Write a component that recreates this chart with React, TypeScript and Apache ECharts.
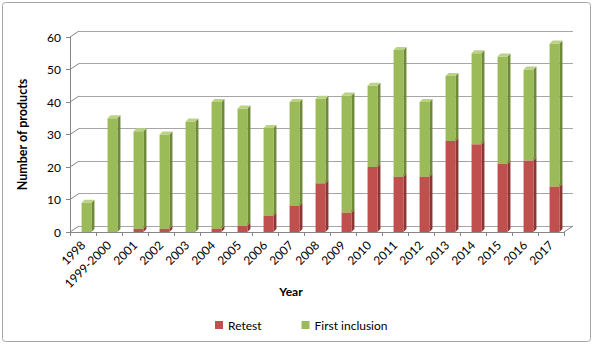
import React, { useEffect, useRef } from "react";
import * as echarts from "echarts";

const categories = [
  "1998", "1999-2000", "2001", "2002", "2003", "2004", "2005", "2006", "2007", "2008",
  "2009", "2010", "2011", "2012", "2013", "2014", "2015", "2016", "2017",
];
const retest = [0, 0, 1, 1, 0, 1, 2, 5, 8, 15, 6, 20, 17, 17, 28, 27, 21, 22, 14];
const firstInclusion = [9, 35, 30, 29, 34, 39, 36, 27, 32, 26, 36, 25, 39, 23, 20, 28, 33, 28, 44];
const yTicks = [0, 10, 20, 30, 40, 50, 60];

const FONT = "Lato, 'Noto Sans', sans-serif";
const DX = 9;
const DY = -6;
const SD = 3;
const SH = -3;

const RED = { front: "#C0504D", side: "#8E3533", top: "#D9807D" };
const GREEN = { front: "#9BBB59", side: "#6E8A38", top: "#B9D284" };

function makePrism(colors: { front: string; side: string; top: string }) {
  return (params: any, api: any) => {
    const idx = api.value(0);
    const base = api.value(1);
    const top = api.value(2);
    if (!(top > base)) return { type: "group", children: [] };
    const p0 = api.coord([idx, base]);
    const p1 = api.coord([idx, top]);
    const bw = api.size([1, 0])[0] * 0.38;
    const x0 = p0[0] + 3.5 - bw / 2;
    const x1 = x0 + bw;
    const yb = p0[1];
    const yt = p1[1];
    return {
      type: "group",
      children: [
        {
          type: "polygon",
          shape: { points: [[x1, yt], [x1 + SD, yt + SH], [x1 + SD, yb + SH], [x1, yb]] },
          style: { fill: colors.side },
        },
        {
          type: "rect",
          shape: { x: x0, y: yt, width: bw, height: yb - yt },
          style: { fill: colors.front },
        },
        {
          type: "polygon",
          shape: { points: [[x0, yt], [x0 + SD, yt + SH], [x1 + SD, yt + SH], [x1, yt]] },
          style: { fill: colors.top },
        },
      ],
    };
  };
}

export default function App() {
  const ref = useRef<HTMLDivElement>(null);
  useEffect(() => {
    if (!ref.current) return;
    const chart = echarts.init(ref.current, undefined, { renderer: "svg" });
    const option: any = {
      animation: false,
      backgroundColor: "#ffffff",
      textStyle: { fontFamily: FONT },
      grid: [
        { left: 70, right: 30, top: 37, bottom: 113 },
        { left: 70 + DX, right: 30 - DX, top: 37 + DY, bottom: 113 - DY },
      ],
      xAxis: [
        {
          type: "category",
          gridIndex: 0,
          data: categories,
          boundaryGap: true,
          axisLine: { show: true, lineStyle: { color: "#868686" } },
          axisTick: { show: true, length: 4, lineStyle: { color: "#868686" } },
          axisLabel: { rotate: 45, interval: 0, fontSize: 12, color: "#000", margin: 11, fontFamily: FONT },
        },
        {
          type: "category",
          gridIndex: 1,
          data: categories,
          show: false,
        },
      ],
      yAxis: [
        {
          type: "value",
          gridIndex: 0,
          min: 0,
          max: 60,
          interval: 10,
          axisLine: { show: true, lineStyle: { color: "#868686" } },
          axisTick: { show: true, length: 4, lineStyle: { color: "#868686" } },
          axisLabel: { fontSize: 12, color: "#000", margin: 9, fontFamily: FONT },
          splitLine: { show: false },
          name: "Number of products",
          nameLocation: "middle",
          nameGap: 41,
          nameTextStyle: { fontSize: 12.5, fontWeight: "bold", color: "#000", fontFamily: FONT },
        },
        {
          type: "value",
          gridIndex: 1,
          min: 0,
          max: 60,
          interval: 10,
          axisLine: { show: false },
          axisTick: { show: false },
          axisLabel: { show: false },
          splitLine: { show: true, lineStyle: { color: "#a6a6a6", width: 1 } },
        },
      ],
      legend: {
        data: ["Retest", "First inclusion"],
        left: 210,
        top: 314,
        icon: "rect",
        itemWidth: 8,
        itemHeight: 8,
        itemGap: 40,
        textStyle: { fontSize: 12, color: "#000", fontFamily: FONT },
      },
      graphic: [
        {
          type: "rect",
          shape: { x: 2.5, y: 2.5, width: 588, height: 339, r: 3 },
          style: { fill: "none", stroke: "#a6a6a6", lineWidth: 1 },
          silent: true,
        },
        {
          type: "text",
          x: 291,
          y: 291,
          style: {
            text: "Year",
            font: `bold 12px ${FONT}`,
            fill: "#000",
            textAlign: "center",
            textVerticalAlign: "middle",
          },
        },
      ],
      series: [
        {
          type: "custom",
          name: "frame",
          xAxisIndex: 0,
          yAxisIndex: 0,
          silent: true,
          data: yTicks.map((v) => [0, v]),
          encode: { x: 0, y: 1 },
          renderItem: (params: any, api: any) => {
            const v = api.value(1);
            const cs = params.coordSys;
            const y = api.coord([0, v])[1];
            const children: any[] = [
              {
                type: "line",
                shape: { x1: cs.x, y1: y, x2: cs.x + DX, y2: y + DY },
                style: { stroke: "#868686", lineWidth: 1 },
              },
            ];
            if (v === 0) {
              children.push({
                type: "line",
                shape: { x1: cs.x + cs.width, y1: y, x2: cs.x + cs.width + DX, y2: y + DY },
                style: { stroke: "#868686", lineWidth: 1 },
              });
            }
            return { type: "group", children };
          },
        },
        {
          type: "custom",
          name: "Retest",
          xAxisIndex: 0,
          yAxisIndex: 0,
          itemStyle: { color: RED.front },
          data: categories.map((c, i) => [i, 0, retest[i]]),
          encode: { x: 0, y: [1, 2] },
          renderItem: makePrism(RED),
        },
        {
          type: "custom",
          name: "First inclusion",
          xAxisIndex: 0,
          yAxisIndex: 0,
          itemStyle: { color: GREEN.front },
          data: categories.map((c, i) => [i, retest[i], retest[i] + firstInclusion[i]]),
          encode: { x: 0, y: [1, 2] },
          renderItem: makePrism(GREEN),
        },
      ],
    };
    chart.setOption(option);
    return () => chart.dispose();
  }, []);
  return (
    <div
      ref={ref}
      style={{ position: "fixed", left: 0, top: 0, width: 594, height: 345 }}
    />
  );
}
